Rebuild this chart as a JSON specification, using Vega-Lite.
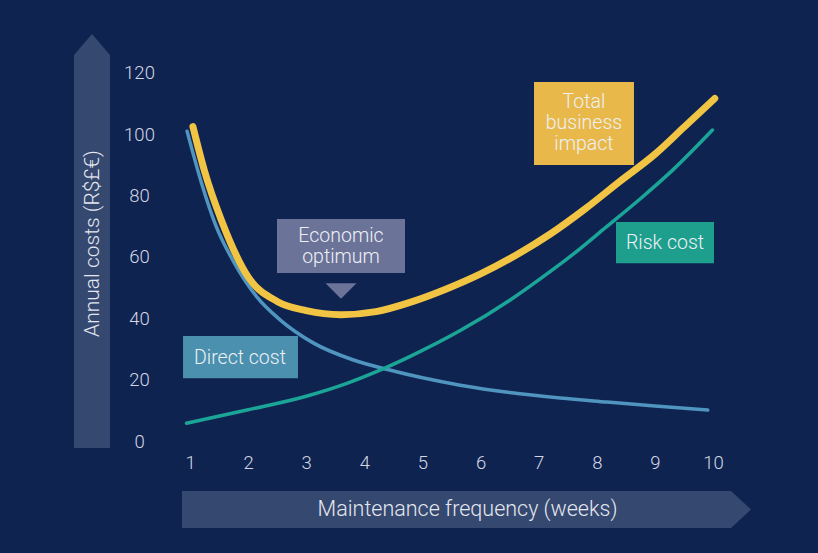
{
  "$schema": "https://vega.github.io/schema/vega-lite/v6.json",
  "width": 818,
  "height": 553,
  "autosize": {"type": "fit", "contains": "padding"},
  "padding": 0,
  "background": "#0f2351",
  "config": {
    "view": {"stroke": null},
    "font": "Roboto",
    "axis": {"grid": false, "domain": false, "ticks": false, "labelFont": "Roboto", "labelFontWeight": 300, "labelFontSize": 18.5, "labelColor": "#d3d7e2", "titleFont": "Roboto", "titleFontWeight": 300, "titleFontSize": 21.5, "titleColor": "#e4e7ef", "labelPadding": 0}
  },
  "datasets": {
    "curves": [
      {"series": "Direct cost", "x": 0.95, "y": 101},
      {"series": "Direct cost", "x": 1.2, "y": 84},
      {"series": "Direct cost", "x": 1.45, "y": 70},
      {"series": "Direct cost", "x": 1.75, "y": 58.5},
      {"series": "Direct cost", "x": 2.15, "y": 47},
      {"series": "Direct cost", "x": 2.55, "y": 39.5},
      {"series": "Direct cost", "x": 3.12, "y": 32},
      {"series": "Direct cost", "x": 3.8, "y": 26.5},
      {"series": "Direct cost", "x": 4.4, "y": 23.3},
      {"series": "Direct cost", "x": 5.0, "y": 20.6},
      {"series": "Direct cost", "x": 5.65, "y": 18.2},
      {"series": "Direct cost", "x": 6.5, "y": 15.8},
      {"series": "Direct cost", "x": 7.37, "y": 14.0},
      {"series": "Direct cost", "x": 8.17, "y": 12.7},
      {"series": "Direct cost", "x": 9.0, "y": 11.4},
      {"series": "Direct cost", "x": 9.91, "y": 10.1},
      {"series": "Risk cost", "x": 0.94, "y": 5.8},
      {"series": "Risk cost", "x": 1.98, "y": 10.1},
      {"series": "Risk cost", "x": 3.0, "y": 14.6},
      {"series": "Risk cost", "x": 3.7, "y": 18.8},
      {"series": "Risk cost", "x": 4.27, "y": 23.1},
      {"series": "Risk cost", "x": 4.79, "y": 27.6},
      {"series": "Risk cost", "x": 5.65, "y": 36},
      {"series": "Risk cost", "x": 6.51, "y": 46},
      {"series": "Risk cost", "x": 7.02, "y": 52.8},
      {"series": "Risk cost", "x": 7.6, "y": 61},
      {"series": "Risk cost", "x": 8.17, "y": 69.9},
      {"series": "Risk cost", "x": 8.75, "y": 79},
      {"series": "Risk cost", "x": 9.31, "y": 88.4},
      {"series": "Risk cost", "x": 9.99, "y": 101.4},
      {"series": "Total business impact", "x": 1.05, "y": 102.5},
      {"series": "Total business impact", "x": 1.25, "y": 88},
      {"series": "Total business impact", "x": 1.54, "y": 72},
      {"series": "Total business impact", "x": 2.0, "y": 53.5},
      {"series": "Total business impact", "x": 2.5, "y": 45.5},
      {"series": "Total business impact", "x": 3.0, "y": 42.5},
      {"series": "Total business impact", "x": 3.6, "y": 41.2},
      {"series": "Total business impact", "x": 4.2, "y": 42.2},
      {"series": "Total business impact", "x": 4.8, "y": 45.3},
      {"series": "Total business impact", "x": 5.4, "y": 49.5},
      {"series": "Total business impact", "x": 6.0, "y": 54.5},
      {"series": "Total business impact", "x": 6.6, "y": 60.5},
      {"series": "Total business impact", "x": 7.2, "y": 67.5},
      {"series": "Total business impact", "x": 7.8, "y": 75.7},
      {"series": "Total business impact", "x": 8.4, "y": 84.7},
      {"series": "Total business impact", "x": 9.0, "y": 93.5},
      {"series": "Total business impact", "x": 9.5, "y": 102.3},
      {"series": "Total business impact", "x": 10.03, "y": 111.7}
    ],
    "labels": [
      {"label": "Economic\noptimum", "x": 2.497, "x2": 4.7, "y": 72.4, "y2": 54.8, "cx": 3.598, "cy": 66.9, "box": "econ"},
      {"label": "Total\nbusiness\nimpact", "x": 6.92, "x2": 8.64, "y": 117.1, "y2": 90.0, "cx": 7.78, "cy": 110.7, "box": "total"},
      {"label": "Risk cost", "x": 8.331, "x2": 10.017, "y": 71.4, "y2": 58.0, "cx": 9.174, "cy": 64.6, "box": "risk"},
      {"label": "Direct cost", "x": 0.88, "x2": 2.858, "y": 34.2, "y2": 20.5, "cx": 1.86, "cy": 27.1, "box": "direct"}
    ]
  },
  "encoding": {
    "x": {"field": "x", "type": "quantitative", "scale": {"domain": [-2.2697, 11.807], "nice": false, "zero": false},
      "axis": {"orient": "bottom", "offset": -91, "zindex": 2, "values": [1,2,3,4,5,6,7,8,9,10], "labelBaseline": "middle", "labelAlign": "center", "title": "Maintenance frequency (weeks)", "titleX": 467, "titleY": 47, "titleBaseline": "middle", "titleAlign": "center"}},
    "y": {"field": "y", "type": "quantitative", "scale": {"domain": [-36.52, 143.8], "nice": false, "zero": false},
      "axis": {"orient": "left", "offset": -139, "zindex": 2, "values": [0,20,40,60,80,100,120], "labelAlign": "center", "labelBaseline": "middle", "title": "Annual costs (R$£€)", "titleFontSize": 21, "titleAngle": 270, "titleX": -47, "titleY": 243, "titleBaseline": "middle", "titleAlign": "center"}}
  },
  "layer": [
    {
      "data": {"values": [
        {"x": -0.996, "x2": -0.377, "y": -2.28},
        {"x": -0.996, "x2": -0.377, "y": 125.9},
        {"x": -0.686, "x2": -0.686, "y": 132.7}
      ]},
      "mark": {"type": "area", "orient": "horizontal", "color": "#35486f", "opacity": 1},
      "encoding": {"x2": {"field": "x2"}}
    },
    {
      "data": {"values": [
        {"x": 0.862, "y": -16.3, "y2": -28.37},
        {"x": 10.31, "y": -16.3, "y2": -28.37},
        {"x": 10.654, "y": -22.34, "y2": -22.34}
      ]},
      "mark": {"type": "area", "orient": "vertical", "color": "#35486f", "opacity": 1},
      "encoding": {"y2": {"field": "y2"}}
    },
    {
      "data": {"name": "curves"},
      "transform": [{"filter": "datum.series === 'Direct cost'"}],
      "mark": {"type": "line", "interpolate": "monotone", "color": "#4f95bf", "strokeWidth": 3.5, "strokeCap": "round"},
      "encoding": {}
    },
    {
      "data": {"name": "curves"},
      "transform": [{"filter": "datum.series === 'Risk cost'"}],
      "mark": {"type": "line", "interpolate": "monotone", "color": "#1ba597", "strokeWidth": 3.5, "strokeCap": "round"},
      "encoding": {}
    },
    {
      "data": {"name": "curves"},
      "transform": [{"filter": "datum.series === 'Total business impact'"}],
      "mark": {"type": "line", "interpolate": "monotone", "color": "#f1c443", "strokeWidth": 7, "strokeCap": "round"},
      "encoding": {}
    },
    {
      "data": {"name": "labels"},
      "mark": {"type": "rect"},
      "encoding": {
        "x2": {"field": "x2"},
        "y2": {"field": "y2"},
        "color": {"field": "box", "type": "nominal", "legend": null,
          "scale": {"domain": ["econ", "total", "risk", "direct"], "range": ["#6b7399", "#e8b94a", "#1e9f8e", "#4b90ae"]}}
      }
    },
    {
      "data": {"values": [{"x": 3.598, "y": 48.9}]},
      "mark": {"type": "point", "shape": "M-1,-0.5L1,-0.5L0,0.5Z", "size": 961, "filled": true, "color": "#6b7399", "opacity": 1},
      "encoding": {}
    },
    {
      "data": {"name": "labels"},
      "mark": {"type": "text", "align": "center", "baseline": "middle", "fontSize": 19.5, "fontWeight": 300, "font": "Roboto", "lineBreak": "\n", "lineHeight": 21, "color": "#eef0f5"},
      "encoding": {
        "x": {"field": "cx", "type": "quantitative"},
        "y": {"field": "cy", "type": "quantitative"},
        "text": {"field": "label"}
      }
    }
  ]
}
